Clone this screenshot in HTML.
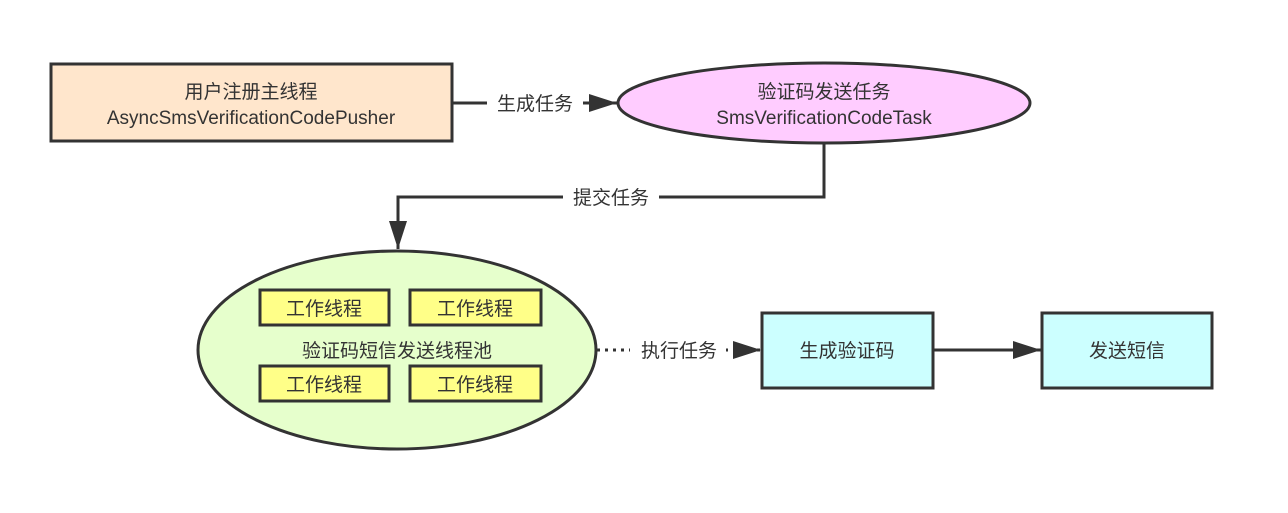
<!DOCTYPE html>
<html><head><meta charset="utf-8"><style>body{margin:0;background:#fff}</style></head>
<body>
<svg width="1288" height="508" xmlns="http://www.w3.org/2000/svg" font-family="Liberation Sans, Noto Sans CJK SC, sans-serif" font-size="19" fill="#333">
<defs><marker id="a" markerWidth="10" markerHeight="10" refX="9" refY="5" orient="auto" markerUnits="userSpaceOnUse"><path d="M0,0 L10,5 L0,10 z" fill="#333"/></marker>
<marker id="b" viewBox="0 0 10 10" markerWidth="28" markerHeight="18" refX="10" refY="5" orient="auto" markerUnits="userSpaceOnUse" preserveAspectRatio="none"><path d="M0,0 L10,5 L0,10 z" fill="#333"/></marker></defs>
<rect x="51" y="64" width="401" height="77" fill="#ffe6cc" stroke="#333" stroke-width="3"/>
<text x="251" y="98" text-anchor="middle">用户注册主线程</text>
<text x="251" y="124" text-anchor="middle">AsyncSmsVerificationCodePusher</text>
<line x1="453" y1="103" x2="617" y2="103" stroke="#333" stroke-width="3" marker-end="url(#b)"/>
<rect x="487" y="92" width="96" height="24" fill="#fff"/>
<text x="535" y="110" text-anchor="middle">生成任务</text>
<ellipse cx="824" cy="103" rx="206" ry="40" fill="#ffccff" stroke="#333" stroke-width="3"/>
<text x="824" y="98" text-anchor="middle">验证码发送任务</text>
<text x="824" y="124" text-anchor="middle">SmsVerificationCodeTask</text>
<polyline points="824,143 824,197 398,197 398,249" fill="none" stroke="#333" stroke-width="3" marker-end="url(#b)"/>
<rect x="563" y="186" width="96" height="24" fill="#fff"/>
<text x="611" y="204" text-anchor="middle">提交任务</text>
<ellipse cx="397" cy="350" rx="199" ry="99" fill="#e6ffcc" stroke="#333" stroke-width="3"/>
<g fill="#ffff88" stroke="#333" stroke-width="3">
<rect x="260" y="290" width="129" height="35"/><rect x="410" y="290" width="131" height="35"/>
<rect x="260" y="366" width="129" height="35"/><rect x="410" y="366" width="131" height="35"/></g>
<text x="324" y="315" text-anchor="middle">工作线程</text><text x="475" y="315" text-anchor="middle">工作线程</text>
<text x="324" y="391" text-anchor="middle">工作线程</text><text x="475" y="391" text-anchor="middle">工作线程</text>
<text x="397" y="357" text-anchor="middle">验证码短信发送线程池</text>
<line x1="597" y1="350" x2="761" y2="350" stroke="#333" stroke-width="3" stroke-dasharray="3,5" marker-end="url(#b)"/>
<rect x="630" y="338" width="96" height="24" fill="#fff"/>
<text x="679" y="357" text-anchor="middle">执行任务</text>
<rect x="762" y="313" width="171" height="75" fill="#ccffff" stroke="#333" stroke-width="3"/>
<text x="847" y="357" text-anchor="middle">生成验证码</text>
<line x1="933" y1="350" x2="1041" y2="350" stroke="#333" stroke-width="3" marker-end="url(#b)"/>
<rect x="1042" y="313" width="170" height="75" fill="#ccffff" stroke="#333" stroke-width="3"/>
<text x="1127" y="357" text-anchor="middle">发送短信</text>
</svg>
</body></html>
